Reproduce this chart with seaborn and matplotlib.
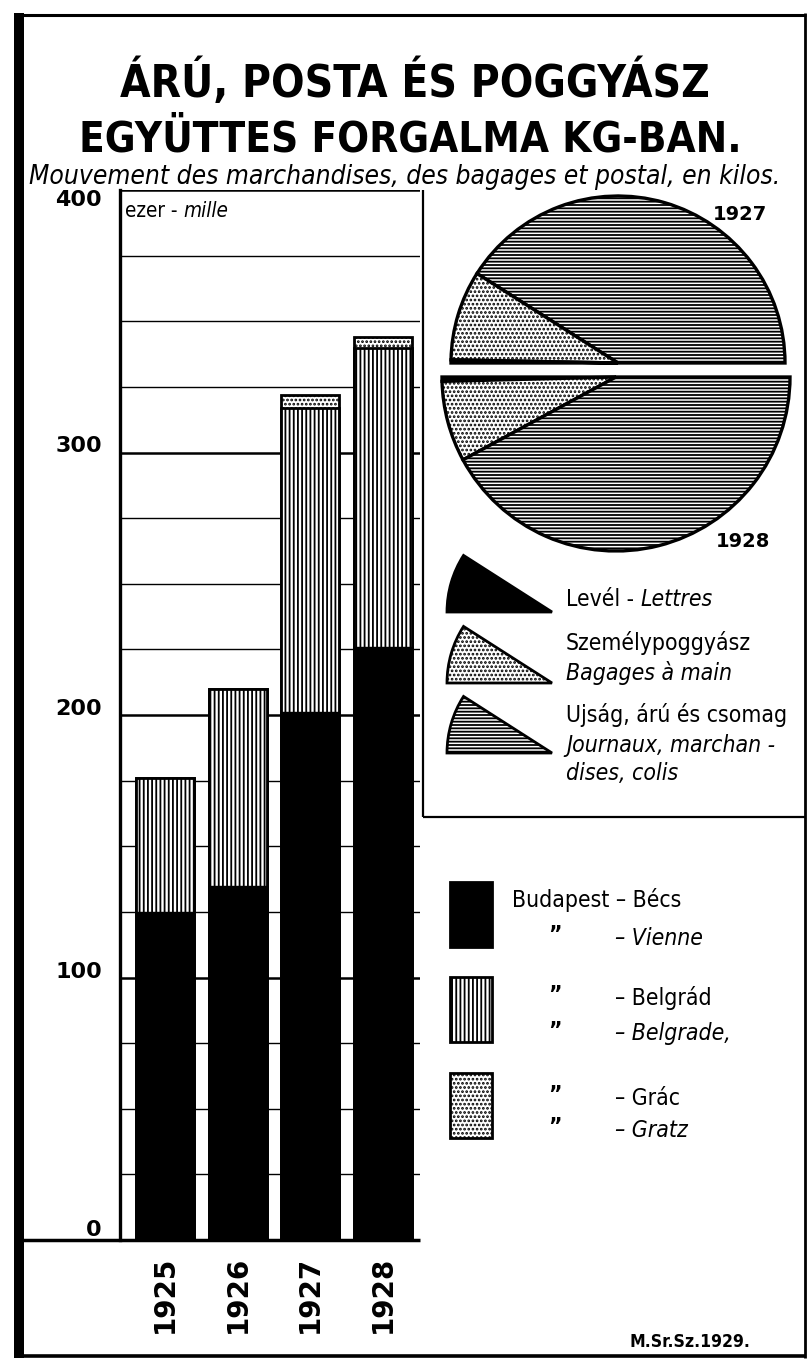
import os
import matplotlib
matplotlib.use("Agg")
import matplotlib.pyplot as plt
import seaborn as sns
import pandas as pd
from matplotlib import font_manager
from matplotlib.font_manager import FontProperties
from matplotlib.patches import Wedge, Rectangle
from matplotlib.lines import Line2D

# Goods, post and luggage traffic, thousand kg (ezer - mille)
years = ["1925", "1926", "1927", "1928"]
becs = [125, 135, 201, 226]       # Budapest - Bécs
belgrad = [51, 75, 116, 114]      # Budapest - Belgrád
grac = [0, 0, 5, 4]               # Budapest - Grác

# half pies: share of traffic in percent
pie_groups = ["Ujság, árú és csomag", "Személypoggyász", "Levél"]
share_1927 = [82.0, 17.4, 0.6]
share_1928 = [84.2, 15.0, 0.8]

ytick_values = [0, 100, 200, 300, 400]
ytick_labels = ["0", "100", "200", "300", "400"]

# look for a narrow font (Liberation Sans Narrow or DejaVu Sans Condensed)
files = {os.path.basename(f.fname): f.fname for f in font_manager.fontManager.ttflist}
LIB = {(0, 0): "Regular", (1, 0): "Bold", (0, 1): "Italic", (1, 1): "BoldItalic"}
DJV = {(0, 0): "", (1, 0): "-Bold", (0, 1): "-Oblique", (1, 1): "-BoldOblique"}


def fp(bold=False, italic=False, size=12):
    key = (int(bold), int(italic))
    for name in ("LiberationSansNarrow-" + LIB[key] + ".ttf", "DejaVuSansCondensed" + DJV[key] + ".ttf"):
        if name in files:
            return FontProperties(fname=files[name], size=size)
    return FontProperties(family="DejaVu Sans", weight="bold" if bold else "normal",
                          style="italic" if italic else "normal", size=size)


sns.set_style("white")
plt.rcParams["font.family"] = ["DejaVu Sans"]
plt.rcParams["text.color"] = "black"
plt.rcParams["xtick.color"] = "black"
plt.rcParams["ytick.color"] = "black"
plt.rcParams["hatch.linewidth"] = 1.3
plt.rcParams["hatch.color"] = "black"

W, H = 810, 1360


def Y(py):
    return H - py


fig = plt.figure(figsize=(W / 100, H / 100), dpi=100, facecolor="white")

# ---- stacked bars ----
ax = fig.add_axes([120 / W, (H - 1240) / H, 300 / W, 1050 / H])
df = pd.DataFrame({"year": years, "becs": becs, "belgrad": belgrad, "grac": grac})
df["mid"] = df["becs"] + df["belgrad"]
df["top"] = df["mid"] + df["grac"]

common = dict(x="year", errorbar=None, saturation=1, edgecolor="black", ax=ax)
sns.barplot(data=df, y="top", color="white", hatch="....", linewidth=2, **common)
sns.barplot(data=df, y="mid", color="white", hatch="||||", linewidth=2, **common)
sns.barplot(data=df, y="becs", color="black", linewidth=1, **common)

ax.set_ylim(0, 400)
ax.set_xlim(-0.62, 3.51)
ax.set_yticks(ytick_values)
ax.set_yticklabels(ytick_labels, family="DejaVu Sans", fontweight="bold", fontsize=16)
ax.set_yticks(range(25, 400, 25), minor=True)
ax.set_axisbelow(True)
ax.grid(axis="y", which="major", color="black", lw=1.8)
ax.grid(axis="y", which="minor", color="black", lw=1.0)
ax.tick_params(axis="y", which="both", direction="out", length=11, width=1.4, pad=2, color="black")
ax.set_xticks(range(len(years)))
ax.set_xticklabels(years, rotation=90, family="DejaVu Sans", fontweight="bold", fontsize=20)
ax.tick_params(axis="x", length=0, pad=11)
ax.set_xlabel("")
ax.set_ylabel("")
for s in ["top", "right", "bottom"]:
    ax.spines[s].set_visible(False)
ax.spines["left"].set_linewidth(2.4)
ax.spines["left"].set_color("black")
for t, v in zip(ax.yaxis.get_major_ticks(), ytick_values):
    t.label1.set_va("top" if v == 400 else ("bottom" if v == 0 else "baseline"))

# ---- overlay canvas in pixel units ----
cv = fig.add_axes([0, 0, 1, 1], zorder=5)
cv.patch.set_alpha(0)

wp = dict(edgecolor="black", linewidth=2.4)
cv.pie([v / 200 for v in share_1927], normalize=False, startangle=0, counterclock=True,
       center=(618, Y(363)), radius=167, colors=["white", "white", "black"],
       hatch=["-----", "....", None], wedgeprops=wp)
cv.pie([v / 200 for v in share_1928[::-1]], normalize=False, startangle=180, counterclock=True,
       center=(616, Y(377)), radius=174, colors=["black", "white", "white"],
       hatch=[None, "....", "-----"], wedgeprops=wp)
cv.set_xlim(0, W)
cv.set_ylim(0, H)
cv.set_axis_off()

cv.text(740, Y(220), "1927", family="DejaVu Sans", fontweight="bold", fontsize=14, ha="center", va="baseline")
cv.text(743, Y(547), "1928", family="DejaVu Sans", fontweight="bold", fontsize=14, ha="center", va="baseline")

# pie legend glyphs
for py, fc, hatch in [(612, "black", None), (683, "white", "...."), (753, "white", "-----")]:
    cv.add_patch(Wedge((552, Y(py)), 105, 147.4, 180, facecolor=fc, hatch=hatch,
                       edgecolor="black", linewidth=2))

# bar legend glyphs
for py, fc, hatch in [(882, "black", None), (977, "white", "||||"), (1073, "white", "....")]:
    cv.add_patch(Rectangle((450, Y(py + 65)), 42, 65, facecolor=fc, hatch=hatch,
                           edgecolor="black", linewidth=2))

renderer = fig.canvas.get_renderer()


def width_px(t):
    return t.get_window_extent(renderer).width


def fit(t, target):
    t.set_fontsize(t.get_fontsize() * target / width_px(t))
    return t.get_fontsize()


# legend font size from the longest line
probe = cv.text(566, Y(722), "Ujság, árú és csomag", fontproperties=fp(size=19), va="baseline")
fs = fit(probe, 221)

t = cv.text(566, Y(611), "Levél - ", fontproperties=fp(size=fs), va="bottom")
cv.annotate("Lettres", xy=(1, 0), xycoords=t, fontproperties=fp(italic=True, size=fs), va="bottom")
cv.text(566, Y(650), "Személypoggyász", fontproperties=fp(size=fs), va="baseline")
cv.text(566, Y(680), "Bagages à main", fontproperties=fp(italic=True, size=fs), va="baseline")
cv.text(566, Y(752), "Journaux, marchan -", fontproperties=fp(italic=True, size=fs), va="baseline")
cv.text(566, Y(780), "dises, colis", fontproperties=fp(italic=True, size=fs), va="baseline")

cv.text(512, Y(907), "Budapest – Bécs", fontproperties=fp(size=fs), va="baseline")
for py, txt, it in [(945, "– Vienne", True), (1005, "– Belgrád", False),
                    (1040, "– Belgrade,", True), (1105, "– Grác", False),
                    (1137, "– Gratz", True)]:
    cv.text(615, Y(py), txt, fontproperties=fp(italic=it, size=fs), va="baseline")
    cv.text(555, Y(py - 9), "”", fontproperties=fp(bold=True, size=fs), ha="center", va="center")

# titles
t1 = cv.text(415, Y(97), "ÁRÚ, POSTA ÉS POGGYÁSZ", fontproperties=fp(bold=True, size=36),
             ha="center", va="baseline")
fit(t1, 590)
t2 = cv.text(410, Y(152), "EGYÜTTES FORGALMA KG-BAN.", fontproperties=fp(bold=True, size=36),
             ha="center", va="baseline")
fit(t2, 662)
t3 = cv.text(405, Y(184), "Mouvement des marchandises, des bagages et postal, en kilos.",
             fontproperties=fp(italic=True, size=20), ha="center", va="baseline")
fit(t3, 750)
t = cv.text(125, Y(221), "ezer - ", fontproperties=fp(size=fs * 0.9), va="bottom")
cv.annotate("mille", xy=(1, 0), xycoords=t, fontproperties=fp(italic=True, size=fs * 0.9), va="bottom")
t4 = cv.text(690, Y(1347), "M.Sr.Sz.1929.", fontproperties=fp(bold=True, size=13), ha="center", va="baseline")
fit(t4, 120)

# frame lines
lines = [
    ((19, 19), (13, 1358), 7.2),      # left thick border
    ((15, 806), (15, 15), 2.2),       # top border
    ((805, 805), (13, 1358), 2.0),    # right border
    ((15, 806), (1356, 1356), 2.6),   # bottom border
    ((20, 420), (1240, 1240), 2.5),   # base line
    ((423, 423), (190, 817), 1.6),    # pie box left
    ((423, 806), (817, 817), 1.6),    # pie box bottom
]
for xs, ys, lw in lines:
    cv.add_line(Line2D(xs, [Y(v) for v in ys], color="black", lw=lw, solid_capstyle="butt"))

fig.savefig("out.png", dpi=100, facecolor="white")
